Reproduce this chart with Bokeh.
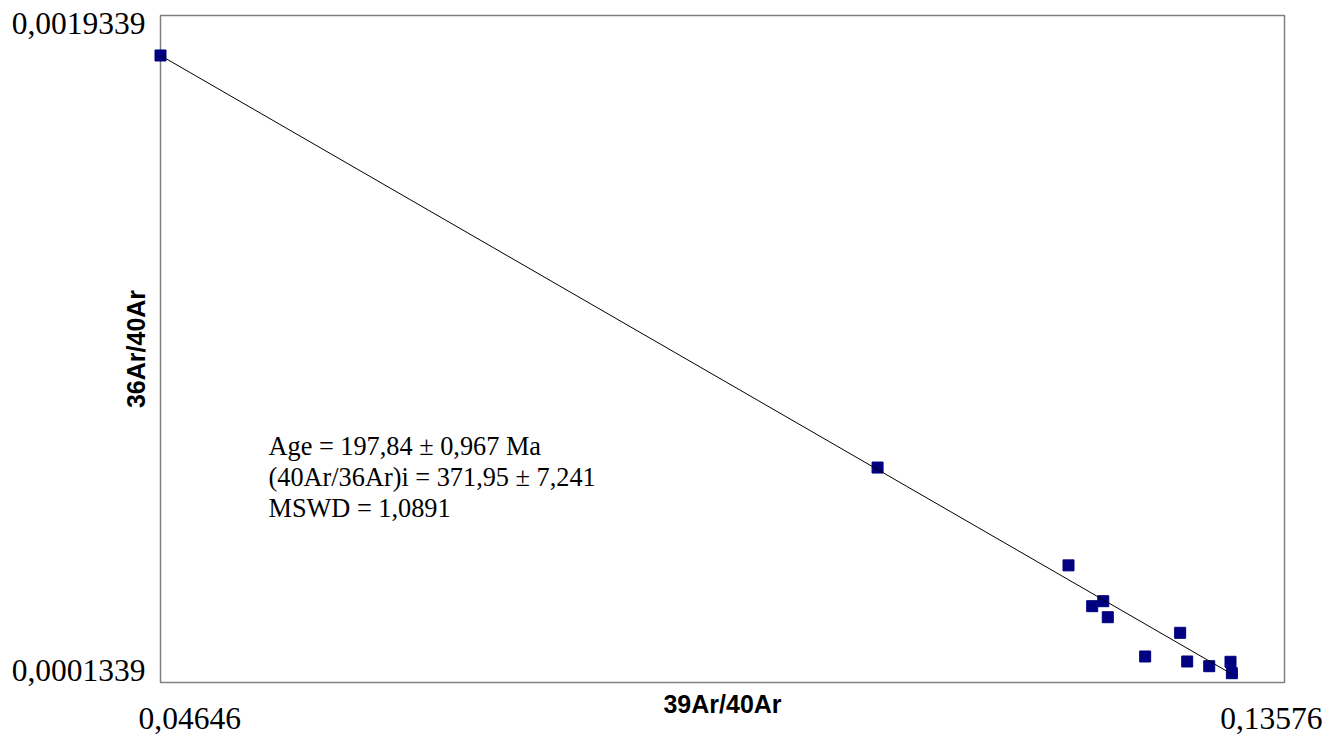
import math
from bokeh.plotting import figure
from bokeh.models import Range1d, Label, ColumnDataSource
from bokeh.embed import file_html
from bokeh.resources import INLINE

# ---- data ----
x_vals = [0.04646, 0.10343, 0.11860, 0.12048, 0.12136, 0.12172,
          0.12469, 0.12747, 0.12803, 0.12978, 0.13147, 0.13158]
y_vals = [0.001826, 0.000714, 0.000450, 0.0003398, 0.0003533, 0.0003101,
          0.0002041, 0.0002680, 0.0001906, 0.0001779, 0.0001898, 0.0001590]

fit_x = [0.04646, 0.13158]
fit_y = [0.001826, 0.0001566]

x_ticks = [0.04646, 0.13576]
x_tick_labels = ["0,04646", "0,13576"]
y_ticks = [0.0001339, 0.0019339]
y_tick_labels = ["0,0001339", "0,0019339"]

x_title = "39Ar/40Ar"
y_title = "36Ar/40Ar"
info_lines = ["Age = 197,84 \u00b1 0,967 Ma",
              "(40Ar/36Ar)i = 371,95 \u00b1 7,241",
              "MSWD = 1,0891"]

SERIF = "Liberation Serif"
SANS = "Liberation Sans"

# ---- layout (pixels) ----
W, H = 1333, 738
BOX_L, BOX_R, BOX_T, BOX_B = 160, 1284, 15, 682

sx = (x_ticks[1] - x_ticks[0]) / (BOX_R - BOX_L)
sy = (y_ticks[1] - y_ticks[0]) / (BOX_B - BOX_T)
x_range = Range1d(x_ticks[0] - BOX_L * sx, x_ticks[1] + (W - BOX_R) * sx)
y_range = Range1d(y_ticks[0] - (H - BOX_B) * sy, y_ticks[1] + BOX_T * sy)

p = figure(frame_width=W, frame_height=H,
           x_range=x_range, y_range=y_range,
           x_axis_location=None, y_axis_location=None,
           min_border=0, output_backend="svg", toolbar_location=None,
           background_fill_color="white", border_fill_color="white")
p.grid.visible = False
p.outline_line_color = None

# plot box along the axis extents
p.quad(left=[x_ticks[0]], right=[x_ticks[1]], bottom=[y_ticks[0]], top=[y_ticks[1]],
       fill_color=None, line_color="#808080", line_width=1.5)

src = ColumnDataSource(dict(x=x_vals, y=y_vals))
p.scatter("x", "y", source=src, marker="square", size=11,
          fill_color="#000080", line_color="#000080")
p.line(fit_x, fit_y, line_color="black", line_width=1)

# tick labels at the axis ends
def tick_label(x, y, text, xo, yo, align):
    p.add_layout(Label(x=x, y=y, text=text, x_offset=xo, y_offset=yo,
                       text_align=align, text_baseline="alphabetic",
                       text_font=SERIF, text_font_size="31.5px", text_color="black"))

tick_label(x_ticks[0], y_ticks[1], y_tick_labels[1], -15, -8, "right")
tick_label(x_ticks[0], y_ticks[0], y_tick_labels[0], -15, 12, "right")
tick_label(x_ticks[0], y_ticks[0], x_tick_labels[0], -22, -36, "left")
tick_label(x_ticks[1], y_ticks[0], x_tick_labels[1], 38, -36, "right")

# axis titles
p.add_layout(Label(x=(x_ticks[0] + x_ticks[1]) / 2, y=y_ticks[0], text=x_title,
                   y_offset=-21, text_align="center", text_baseline="alphabetic",
                   text_font=SANS, text_font_style="bold", text_font_size="25px",
                   text_color="black"))
p.add_layout(Label(x=x_ticks[0], y=(y_ticks[0] + y_ticks[1]) / 2, text=y_title,
                   x_offset=-25, angle=math.pi / 2, text_align="center",
                   text_baseline="alphabetic", text_font=SANS,
                   text_font_style="bold", text_font_size="25px",
                   text_color="black"))

# info text
for i, line in enumerate(info_lines):
    p.add_layout(Label(x=x_ticks[0], y=y_ticks[0], text=line,
                       x_offset=108, y_offset=236 - 31 * i,
                       text_align="left", text_baseline="alphabetic",
                       text_font=SERIF, text_font_size="26.3px",
                       text_color="black"))

open("out.html", "w").write(file_html(p, INLINE))
